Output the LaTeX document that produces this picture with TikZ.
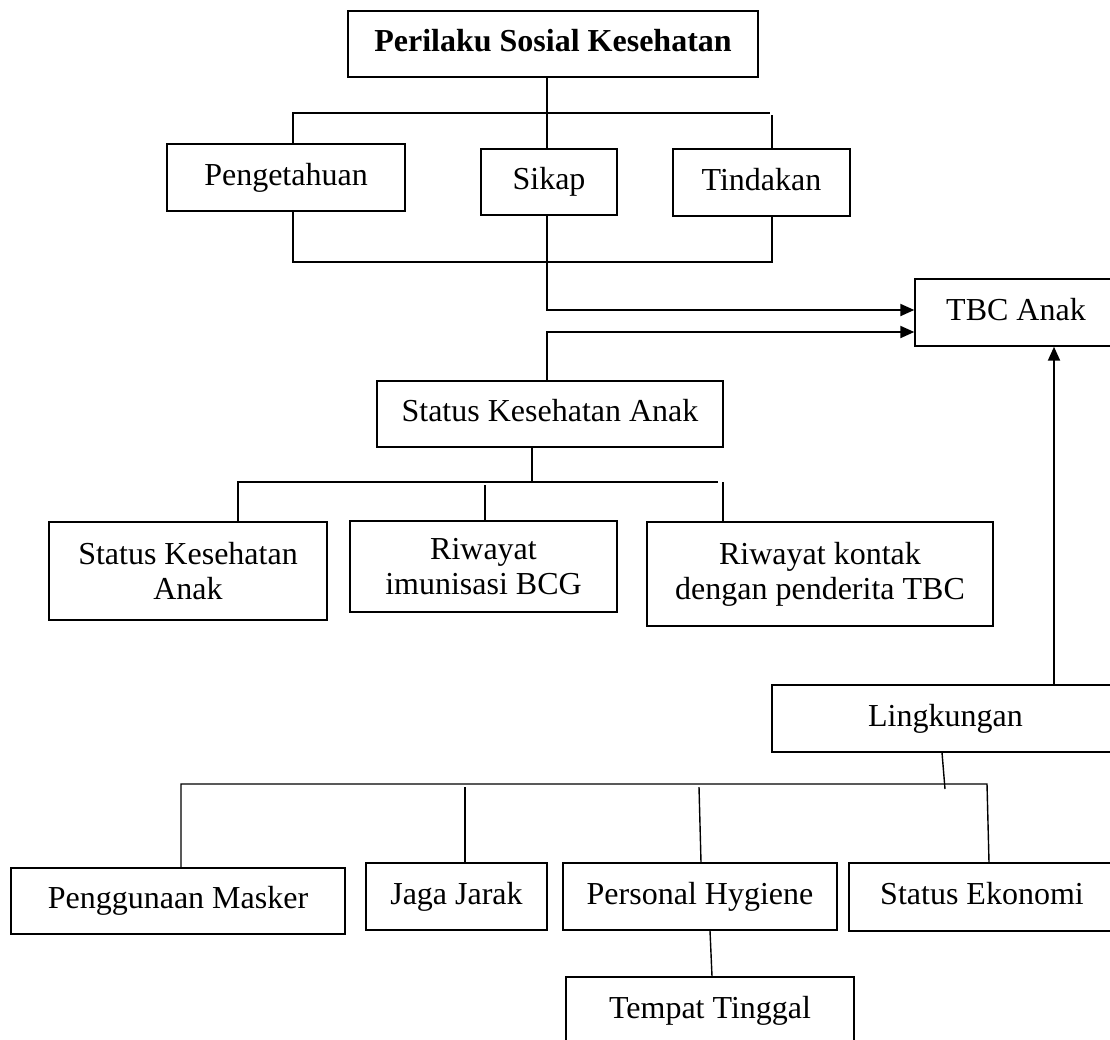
\documentclass[tikz,border=0pt]{standalone}
\usepackage{fontspec}
\setmainfont{Liberation Serif}
\usetikzlibrary{arrows.meta,positioning}

\begin{document}
\begin{tikzpicture}[x=1pt, y=-1pt,
box/.style={rectangle, draw, line width=1.4pt, align=center, inner sep=2pt,
      font=\fontsize{32}{35}\selectfont},
oneline/.style={box, text height=22pt, text depth=7pt},
link/.style={line width=1.4pt},
arr/.style={line width=2pt, -{Triangle[length=14pt,width=12pt]}},]
 \useasboundingbox (0,0) rectangle (1110,1039);
 \clip (0,0) rectangle (1110,1039);

 \node[oneline, font=\fontsize{32}{35}\selectfont\bfseries, minimum width=410pt, minimum height=66pt] (psk) at (553,44) {Perilaku Sosial Kesehatan};
 \node[oneline, minimum width=238pt, minimum height=67pt] (peng) at (286,177.5) {Pengetahuan};
 \node[oneline, minimum width=136pt, minimum height=66pt] (sikap) at (549,182) {Sikap};
 \node[oneline, minimum width=177pt, minimum height=67pt] (tind) at (761.5,182.5) {Tindakan};
 \node[oneline, minimum width=202pt, minimum height=67pt] (tbc) at (1016,312.5) {TBC Anak};

 \node[oneline, minimum width=346pt, minimum height=66pt] (ska) at (550,414) {Status Kesehatan Anak};
 \node[box, minimum width=278pt, minimum height=98pt] (ska2) at (188,571) {Status Kesehatan\\Anak};
 \node[box, minimum width=267pt, minimum height=91pt] (bcg) at (483.5,566.5) {Riwayat\\imunisasi BCG};
 \node[box, minimum width=346pt, minimum height=104pt] (kontak) at (820,574) {Riwayat kontak\\dengan penderita TBC};

 \node[oneline, minimum width=347pt, minimum height=67pt] (ling) at (945.5,718.5) {Lingkungan};
 \node[oneline, minimum width=334pt, minimum height=66pt] (masker) at (178,901) {Penggunaan Masker};
 \node[oneline, minimum width=181pt, minimum height=67pt] (jarak) at (456.5,896.5) {Jaga Jarak};
 \node[oneline, minimum width=274pt, minimum height=67pt] (hyg) at (700,896.5) {Personal Hygiene};
 \node[oneline, minimum width=266pt, minimum height=68pt] (ekon) at (982,897) {Status Ekonomi};
 \node[oneline, minimum width=288pt, minimum height=67pt] (tempat) at (710,1010.5) {Tempat Tinggal};

 % perilaku branches
 \draw[link] (psk.south -| 547,0) -- (sikap.north -| 547,0);
 \draw[link] (peng.north -| 293,0) |- (770,113);
 \draw[link] (772,115) -- (tind.north -| 772,0);
 \draw[link] (peng.south -| 293,0) |- (772,262) -- (tind.south -| 772,0);
 \draw[arr] (sikap.south -| 547,0) |- (tbc.west |- 0,310);
 \draw[arr] (ska.north -| 547,0) |- (tbc.west |- 0,332);
 \draw[arr] (ling.north -| 1054,0) -- (tbc.south -| 1054,0);

 % status kesehatan anak branches
 \draw[link] (ska.south -| 532,0) -- (532,482);
 \draw[link] (ska2.north -| 238,0) |- (718,482);
 \draw[link] (485,485) -- (bcg.north -| 485,0);
 \draw[link] (723,482) -- (kontak.north -| 723,0);

 % lingkungan branches
 \draw[link] (ling.south -| 942,0) -- (945,789);
 \draw[link] (masker.north -| 181,0) |- (987,784) -- (ekon.north -| 989,0);
 \draw[link] (465,787) -- (jarak.north -| 465,0);
 \draw[link] (699,787) -- (hyg.north -| 701,0);
 \draw[link] (hyg.south -| 710,0) -- (tempat.north -| 712,0);

\end{tikzpicture}
\end{document}
